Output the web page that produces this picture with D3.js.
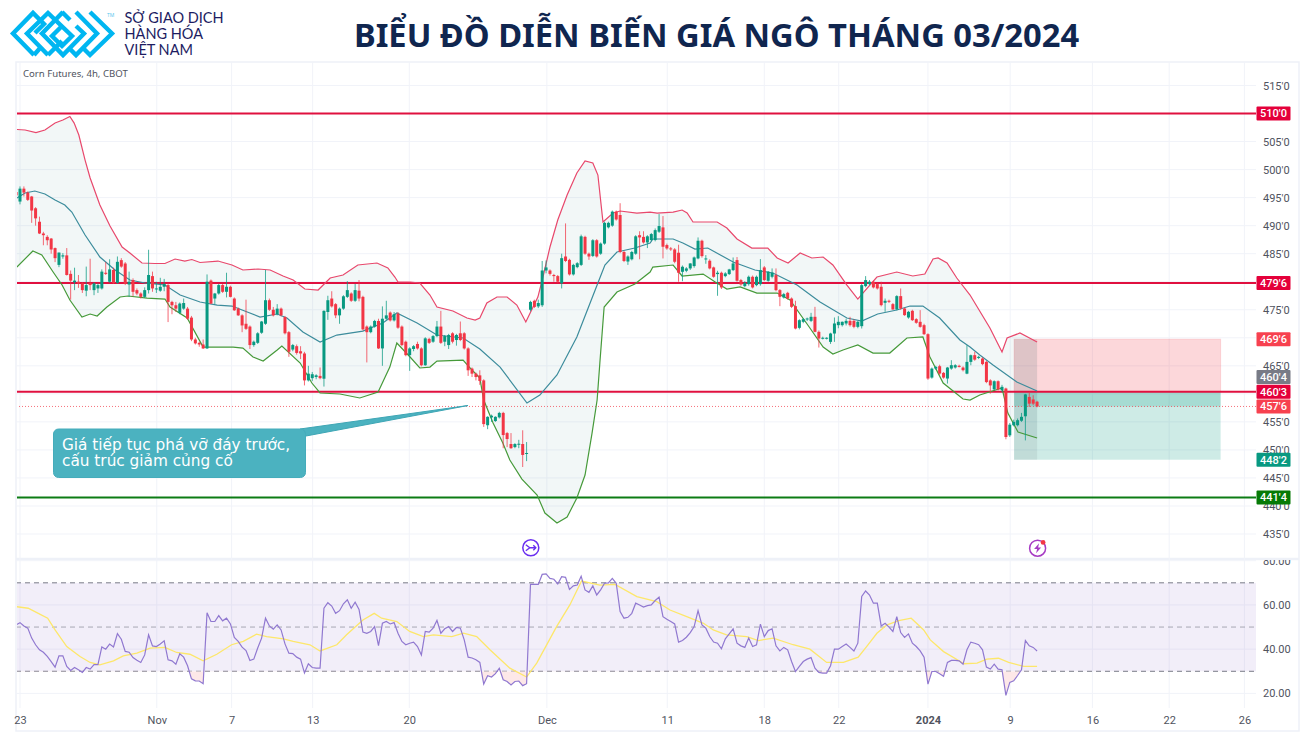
<!DOCTYPE html>
<html>
<head>
<meta charset="utf-8">
<title>Corn Futures</title>
<script src="https://cdn.jsdelivr.net/npm/d3@7"></script>
<style>
  html, body { margin: 0; padding: 0; background: #fff; overflow: hidden; }
  text { font-family: "Noto Sans", sans-serif; }
  .axis text { font-family: Roboto, sans-serif; font-size: 11px; fill: #50535e; }
</style>
</head>
<body>
<div id="chart-container"></div>
<script>
// open, high, low, close per 4h bar
var candles = [
  [496,503.5,493.7,495.4],
  [494.3,497,493.8,496.6],[496.6,497,495.2,495.9],[495.9,496.1,494.4,494.6],[495.2,495.3,490.5,492.7],[493.1,493.3,490,491.3],
  [490.7,491.6,488.5,488.6],[488.6,488.9,486.5,488.3],[488,488.3,486.5,487.4],[487.7,487.8,485,485.75],[486,486.1,483.5,484.2],
  [483,485.2,482.6,485.2],[484.5,485.1,484.1,484.7],[484.7,486,481.1,481.2],[481.4,482,476.8,480.2],[479.9,482.5,478.5,480.2],
  [480,481.2,478.9,479.7],[479.7,479.9,478,478.5],[478.4,482.7,477.4,479.4],[479.7,484.1,478.5,479.4],[478.5,479.9,477.6,479.7],
  [478.8,479.7,478,479.4],[478.8,482.2,478.6,481.8],[481.6,483.5,481.2,481.4],[480,484,479.8,482.2],[482.1,482.5,479.6,479.8],
  [479.8,484.5,479.6,483.55],[483.85,484.2,482.5,482.7],[483.25,483.5,479.4,479.6],[479.5,481.8,477.3,480],[480.3,480.6,477.4,478.2],
  [478.5,478.8,477.6,477.9],[477.9,478.1,477,477.3],[477.3,479,477.1,478.5],[478.5,485.7,477.9,481.2],[481,481.8,478.2,478.8],
  [478.7,480,478,478.8],[478.4,480.7,478.2,479.1],[479.1,480.5,478.3,479.6],[479.4,479.7,472.8,476.4],[476.4,476.6,474.2,475.8],
  [475.8,476.4,474.6,475.2],[474.45,476.3,474.2,476.1],[475.2,477,475,476.2],[475.2,475.5,473.2,473.4],[473.6,473.9,469.4,469.7],
  [469.7,470,468.8,469],[469.1,469.3,468.4,468.8],[468.8,469.7,468,468.1],[468.1,481.3,468,480],[480.2,480.4,476,476.1],
  [477,478,476,477.9],[477.9,479.6,477.7,479.4],[479.4,479.6,478,478.2],[478.2,481.6,477.2,479.1],[479.1,479.3,477.2,477.3],
  [477,477.2,474.8,474.9],[475.2,475.4,473.9,474],[474,474.2,471,472.2],[472.5,476.8,471.4,471.6],[472,472.2,468,468.7],
  [468.7,469.5,468.4,469.3],[469.1,471,468.9,470.8],[470.9,473,470.7,472.9],[472.5,482.1,472.3,476.7],[476.7,477,474.8,475],
  [475,475.5,473.8,474],[474.2,476,474,475.2],[475.2,475.4,473.8,474],[473.7,473.9,470.6,470.8],[471,471.2,466.6,467.5],
  [467.9,468.9,467.6,468.7],[468.5,468.8,467,467.3],[467.6,468.5,466.2,467.2],[467.2,467.5,461.5,462.4],[462.4,465,462.2,463.6],
  [462.8,463.9,462.3,463.5],[463,463.5,462.6,463.3],[463.2,464.7,462.6,462.8],[462.7,474.9,461.3,474.8],
  [474.6,477.5,473.2,476.7],[477,478.3,475.4,475.6],[476,476.2,473.5,474],[474,475.4,472.5,475.2],[475.2,477.6,475,477.4],
  [477.3,480.1,477.1,478.5],[477.9,478.1,476.4,476.6],[476.6,479.6,476.4,478.5],[478.4,480.3,476.5,477],[477.3,477.5,471.3,471.5],
  [472,472.2,465.6,471],[471,472.2,470.8,472],[472,473.2,471.8,473],[473,473.4,468,468.1],[468.1,475.6,465,473.4],
  [473.4,476.6,473.2,474],[474.5,474.7,472.9,473.1],[473.1,474.6,472.9,474.2],[474.3,474.6,471.6,471.8],[472,472.2,468.5,468.7],
  [469.3,469.5,466.7,466.9],[466.9,468.3,464.1,468.1],[468,468.7,467.6,468.5],[468.9,469.3,467.9,468.1],[468.1,468.3,464.9,465.1],
  [465.1,470.1,465,469.9],[469.8,470,468.9,469.1],[469.3,470.5,469.1,470.3],[470.3,473,470.1,472],[472,474.8,468.9,469.1],
  [469.3,470.5,468.5,470.3],[468.7,470.7,468,470.5],[470.8,471,469,469.3],[469.6,470.7,468.6,470.5],[470.8,472.9,469.4,469.6],
  [470.8,471,467.9,468.1],[468.1,468.3,463.2,464.2],[464.5,464.7,463,463.6],[463.6,463.8,462.4,463],[463.3,464.2,461.6,462.3],
  [462.4,462.6,454.1,454.6],[454.4,456,453.7,455.9],[455.8,456.3,455,456.1],[455.15,456,455,455.9],[455.8,456.8,455.6,456.6],
  [456.6,456.8,450.3,452.65],[453,453.2,450.5,451.94],[451.05,453,450.2,450.3],[450.5,451.2,450.3,451.05],[451,451.8,450.3,451.1],
  [451.05,453.5,446.95,449.1],[449.3,451.4,448,449.45],
  [475,476.6,474.7,476.4],[476.6,476.8,475.3,475.5],[475.6,476.8,475.3,476.2],[475.8,483.7,475.5,482],[482,483.8,481.5,482.55],
  [482,482.2,481.1,481.4],[481.2,481.4,480,481],[481,481.2,479.8,480],[479.7,485,478.8,484.2],[484.5,490.4,483.5,483.7],
  [483.9,484.1,481.1,481.3],[481.3,483.2,481.1,483],[482.6,483.5,482.4,483.3],[483,488.4,482.8,488.1],[488,488.2,484.8,485],
  [485,485.2,483.9,484.5],[484.6,487.6,484.4,487.4],[487.4,487.6,484.3,484.5],[485,487,484.8,486.8],[486.8,490.7,486.6,490.5],
  [489.7,490.7,489.5,490.5],[490,492.7,489.8,492.5],[492.5,492.7,490.9,491.1],[491.9,494,485.1,485.3],[485.3,485.5,483.5,483.7],
  [483.6,484.7,483,484.5],[484,485.5,483.8,485.3],[485,488.3,484.8,488.1],[488.3,489,484,487.9],[488,489,486.8,487],[487,488.3,486,488.1],
  [487.43,488.7,487.2,488.5],[487.43,489.5,487.2,489.2],[488.92,492.07,488.7,489.93],[489.69,491.71,484.15,486.24],[486.54,486.8,485.7,485.94],
  [485.94,486.2,485.5,485.76],[485.76,486,483.3,483.56],[485.17,486.6,480,481.6],[481.77,482.9,480.1,482.67],[481.95,482.6,481.7,482.37],
  [482.37,483.3,482.1,483.26],[482.79,484.5,482.5,484.33],[484.15,487.9,484,487.31],[487.31,487.5,484.3,484.57],[483.98,484.75,483.2,484.15],
  [483.74,484,482.2,482.37],[482.55,482.7,480.7,480.88],[481.36,481.95,477.49,481.6],[481.6,481.8,478.7,478.98],[481,481.7,480.8,481.48],
  [481.36,482.3,481.2,482.19],[482.07,484.33,481.9,483.26],[483.86,484.4,480,480.17],[480.29,480.5,479.3,479.51],[479.21,480.1,479,479.81],
  [479.57,481.1,479.3,480.88],[480.88,481.1,478.8,478.98],[479.39,481.1,479.2,480.88],[479.57,484.04,479.3,482.07],[482.55,482.8,480.1,480.29],
  [480.17,481.9,480,481.77],[480.88,482.37,480.6,481.6],[481.18,482.37,478.3,478.5],[478.5,478.7,475.64,477.31],[477.19,478,477,477.79],
  [478.02,478.2,476.8,477],[477,477.2,475.3,475.52],[475.64,476.6,471.5,471.65],[471.77,473.3,471.5,473.14],[472.85,473.5,472.6,473.32],
  [473.26,473.6,473,473.44],[473.02,474.45,472.8,473.74],[473.74,475.52,471,471.06],[471.06,471.3,468.26,469.87],[469.9,470.2,469.7,470],
  [469.9,470.1,469.7,470],[469.27,470.9,468.9,470.76],[470.76,473.62,469.27,472.55],[472.25,473.86,471.7,472.85],[472.25,472.9,472,472.85],
  [472.55,473.4,472.2,473.02],[473.02,473.74,472,472.25],[473.02,473.3,471.7,471.95],[471.95,473,471.7,472.85],[472.07,479.6,471.65,479.39],
  [479.21,481,479,480.29],[479.57,480.3,479.4,480],[480,480.2,478.8,478.98],[479.57,479.8,478.6,478.8],[479.1,480,475.6,475.82],
  [476.24,477,474.63,476.6],[476.6,476.8,476.2,476.42],[476,476.2,475,475.05],[475.05,477.6,474.9,477.43],[477.43,478.8,475,475.23],
  [475.23,475.4,473.9,474.04],[473.62,474.8,473.4,474.63],[474.81,475,473,473.14],[473.32,473.5,472.5,472.67],[472.85,474.93,471.8,471.95],
  [472.25,472.5,470.5,470.64],[470.64,470.8,462.5,462.73],[462.9,464.7,462.7,464.51],[464.51,465,464.3,464.81],[464.93,465.2,463.4,463.62],
  [463.74,463.9,462.7,462.9],[462.73,464.8,461.83,464.69],[464.51,466,464.3,465.11],[464.7,465.3,464.5,465.11],[465,465.2,464.7,464.8],
  [464.69,464.9,464,464.22],[463.6,468.68,463.5,465.7],
  [465.7,467,465.1,466.89],[466.9,467.5,465.9,466.1],[466.4,466.8,466.2,466.6],[466.3,466.5,465.1,465.3],[465.7,465.9,461.9,462.1],
  [462.4,462.6,460.05,461.5],[460.8,462.4,460.6,462.25],[462.25,462.4,460.6,460.8],[460.65,461.6,460.3,461.25],[460.95,461.1,451.9,452.3],
  [452.6,454.8,452.3,454.5],[454.4,455.4,454.2,455],[454.4,455.6,454.2,455.3],[455.2,456.6,455,455.9],[456,460,451.7,459.9],
  [459.45,460.35,457.65,458.25],[459,459.75,458,458.25],[458.6,458.75,457.6,457.75]
];

// bollinger bands as [bar, price]
var upperBand = [[0.2,507.15],[2.3,507.06],[5.1,506.6],[7.4,507.06],[10,508.3],[12,508.84],[13.8,509.47],[14.9,508.3],[16.1,506.17],[17.7,501.7],[19,498.5],[21.5,493.68],[24.1,489.94],[27.2,486.19],[29.2,485.12],[32.3,483.34],[35.6,483.25],[38.2,483.25],[40.8,484.05],[43.3,483.69],[45.1,483.96],[47.2,483.43],[51.8,483.69],[55.4,482.98],[58.2,482.09],[62.1,482.27],[65.2,482.09],[68.5,481.02],[71.1,480.3],[74.1,478.7],[77.5,478.52],[80.6,480.66],[83.9,481.2],[87.7,482.98],[92.6,483.34],[95.4,482.45],[97.2,480.84],[98,479.95],[101.1,479.95],[103.6,479.77],[106.2,477.63],[108,475.49],[112.1,474.77],[115.7,473.52],[117.8,473.17],[119,473.52],[120.8,476.2],[123.4,477.27],[126,477.27],[128.5,475.84],[130.8,472.81],[133.9,477.27],[135.2,480.84],[137,486.19],[139,491],[141.4,495.47],[143.9,499.39],[146,501.53],[148,501.17],[149.3,499.03],[150.6,490.65],[153.2,492.25],[155,492.61],[159.3,492.25],[162.7,492.43],[164.5,492.25],[168.6,492.43],[170.9,492.79],[172.2,492.25],[173.7,490.65],[179.9,490.65],[182.4,489.58],[185,487.62],[188.8,486.01],[192.9,486.01],[195.3,484.23],[198.1,483.34],[201.2,485.12],[204.2,484.23],[207.1,484.41],[209.6,482.98],[213.2,479.41],[216,476.91],[217.3,477.98],[220.9,480.84],[226,481.73],[230.1,481.02],[233.2,481.37],[235.3,484.05],[236.6,484.23],[238.9,483.34],[241.4,480.66],[244.8,477.63],[249.9,471.74],[253,467.46],[254.3,469.96],[257.6,470.85],[262,469.24]];
var basisBand = [[0.2,494.93],[2.3,495.82],[4.8,496.18],[7.4,495.64],[10,494.57],[12.5,493.68],[14.3,492.43],[17.7,488.33],[21.5,484.41],[25.4,482.09],[29.2,480.3],[33.1,479.77],[38.2,479.41],[42.1,477.63],[47.2,476.38],[51.6,475.84],[55.4,475.66],[58,474.95],[62.6,473.7],[67,474.24],[69.5,473.52],[73.6,471.03],[78,469.25],[82.3,470.49],[89,471.2],[94.1,472.63],[97.7,474.42],[102.9,472.63],[108,470.49],[114.7,469.96],[119,468],[124.2,464.78],[131.1,458.36],[134.4,459.79],[138.8,463.36],[143.9,470.14],[149.1,479.41],[151.1,482.98],[154.2,485.3],[158.8,486.01],[162.7,486.9],[163.4,487.62],[168.6,487.62],[171.1,486.9],[174.2,485.83],[177.5,486.01],[184,483.51],[189.6,482.09],[194.2,481.55],[200.4,479.41],[206.3,476.38],[213.2,473.52],[217,472.99],[221.1,474.24],[226,474.95],[229.4,475.66],[232.7,475.66],[237,473.52],[242.2,469.6],[244.8,468.35],[247.3,466.92],[250.7,465.14],[256.8,462.11],[262,460.5]];
var lowerBand = [[0.2,482.62],[4.3,485.48],[6.6,484.76],[9.5,481.73],[11.8,479.41],[13.8,476.74],[16.9,473.7],[19,474.24],[20.8,473.88],[23.3,475.49],[26.7,477.27],[28.7,477.45],[33.6,477.09],[38.2,476.91],[39.5,475.49],[43.9,473.52],[48,468.35],[55.7,468.35],[58.2,468.17],[60.8,466.57],[63.4,465.85],[67,467.82],[68.2,468.53],[72.9,465.5],[75.9,461.93],[78,460.15],[83.1,459.97],[88.2,459.26],[92.9,460.32],[95.9,464.78],[97.7,469.07],[101.1,466.57],[103.6,464.61],[106.2,464.78],[108,465.85],[114.7,466.03],[116.5,464.61],[119,462.82],[120,458.9],[122.4,454.8],[124.9,451.23],[126.7,448.2],[129.8,444.8],[133.7,441.95],[135.7,438.74],[138.8,436.96],[141.4,438.03],[143.9,441.42],[146,445.52],[147.8,453.01],[149.1,458.9],[149.8,465.5],[150.9,475.49],[154.2,478.16],[158.8,479.59],[162.7,481.73],[163.4,482.62],[168.6,482.98],[170.9,481.02],[176.3,481.37],[179.4,479.95],[182.4,478.7],[185.8,479.06],[190.1,477.98],[195.3,477.98],[198.6,476.74],[203.7,471.74],[207.1,468.35],[209.6,467.1],[212.2,467.82],[216,468.71],[219.9,467.28],[224.2,467.28],[228.6,469.96],[232.7,470.14],[234.5,466.57],[237.9,461.93],[243,459.08],[244.8,458.9],[247.3,459.79],[253,461.04],[254.5,456.58],[257.1,453.19],[262,452.12]];

// RSI per bar
var rsiValues = [51,
  52,50.5,49.5,45,42,39.7,38.6,36.7,34.4,31.9,37,37,32.2,30.4,31.7,30.7,29.5,31.7,31,33,
  33,41,40,42.3,41,47,44.5,39,38.6,36.2,35,34,37.4,46.5,41.5,41.2,42.3,43.8,35.2,34.7,
  33.2,37.9,36.4,32.5,26.6,25.7,25.6,24.4,56.5,52.5,52.5,55.2,52.8,54,51.4,45.3,43.5,40.9,39.4,34.9,
  35.5,40.5,45,54,50.5,49,51,48.7,42.4,38.2,38,36.4,35.5,29.2,33.4,31.7,31.4,31.4,58.5,61,
  59.5,56.2,57.4,60.5,62.3,58.5,61.2,58,47.7,47.2,48,50.2,41.6,51.7,52.5,51.4,52,47.2,43.5,42,
  42.7,43.2,41.2,37.4,48,47.7,49.5,53,47.2,49.2,50.2,48,49.8,49.5,44.2,36.4,36,35.2,34,24.2,
  28,27.4,28.9,31.4,26.2,25.4,23.8,25.4,25.6,23.5,24.4,69.3,69.3,69.3,73.8,74,72,71.6,69.5,72.8,
  72.5,67,68.6,69,73,66.8,65.7,68.6,64.5,66.8,69.8,70,72,69.8,57,54,54.4,56.2,60.8,60,
  59,59.7,60,62,63.5,54.7,53.5,52.5,51.4,43.2,43.9,45.4,47.5,50.2,57.4,51,49.5,45.7,43.2,42.7,
  40.2,44.7,46.9,49.2,42.7,41.5,40.8,45,41.2,42,51.3,45.7,48.4,49.2,41.5,39.2,40.8,39.7,34.4,29.9,
  32.2,34.4,35.5,36.2,31.4,29.5,29.2,29.2,32.5,40,40,41.2,42.3,40.8,39.2,42.7,63.8,66.3,64.5,60.8,
  60.8,50.5,51.7,50,48,54.7,47.5,45.3,46.9,42.7,41.2,39.2,36.4,24.2,29.9,29.9,28.9,27.7,34,34.9,
  34.9,34.7,33.2,39.7,43.2,42.7,42,39.7,31.9,31,33.2,31,30.7,19.1,25,25.7,28.1,30.7,43.9,41.5,
  40.8,39.2
];
// RSI moving average as [bar, value]
var rsiAverage = [[0.1,59.2],[3.1,58.5],[5.7,56.2],[8.1,54],[10,48.7],[13,41.2],[16.4,36.7],[19,34],[21.5,32.9],[25,34.7],[27.5,37],[31,38.2],[34.4,40.5],[38.2,40.8],[41.2,38.5],[44.6,37.7],[48,34.7],[51.5,37.7],[55.3,42],[58.3,43.5],[61.7,46.8],[64.3,45.7],[68.6,44.7],[71.1,43.5],[75.4,42],[78,39.2],[82.3,42],[84.8,46.5],[89,53.2],[91.9,56.2],[93.8,54],[97.7,52.5],[101,48],[104.5,45.7],[107.1,46.5],[111.8,45.7],[114.8,47.2],[118.2,45.7],[121.6,39.7],[126.7,31.4],[131,27.4],[133.6,33.7],[138.7,50.2],[142.1,60],[145.1,70.8],[149.8,69],[153.7,69.3],[159.3,63.8],[164.4,61.5],[167.8,57.7],[172.1,54.7],[176.4,51.7],[178.9,48.7],[182.3,46.5],[187.5,45.7],[190.5,43.9],[194.3,45],[199.4,42],[203.7,40],[208,34],[212.3,34],[216.1,36.4],[218.4,41.5],[220.9,47.2],[223.5,51],[226.5,52.9],[229.7,54],[232.9,48.7],[234.6,44.2],[238,38.9],[242.3,34.4],[243.2,33.4],[246.6,33.7],[249.1,35.5],[252.1,35.9],[254.7,34],[258.6,32.2],[262,32.2]];

var priceTicks = [515,510,505,500,495,490,485,480,475,470,465,460,455,450,445,440,435];
// these sit under a price tag in the picture
var hiddenPriceLabels = [510,480,470,460];
var rsiTicks = [20,40,60,80];
var rsiLevels = [70,50,30];
var timeTickBars = [1,36.1,55.3,76.1,100.9,136.2,167.1,192,211.1,234,255.1,276.2,295.9,315.2];
var timeTickLabels = ["23","Nov","7","13","20","Dec","11","18","22","2024","9","16","22","26"];

// horizontal levels
var redLevels = [510,479.75,460.375];
var greenLevel = 441.5;
var lastPrice = 457.75;
var positionBars = [256.1,309.1];
var positionEntry = 460.375, positionStop = 469.75, positionTarget = 448.25;

var tagLabels = ["510'0","479'6","469'6","460'4","460'3","457'6","448'2","441'4"];
var tagPrices = [510,479.75,469.75,460.5,460.375,457.75,448.25,441.5];
var tagColors = ["#e4003a","#e4003a","#f7414f","#787b86","#e4003a","#f7414f","#089981","#067a06"];

var width = 1307, height = 735;
var plot = { left: 16, right: 1256, top: 62, bottom: 559, rsiBottom: 708, end: 731, outer: 1299 };

var svg = d3.select("#chart-container").append("svg")
  .attr("width", width).attr("height", height).style("display", "block");

var defs = svg.append("defs");
defs.append("clipPath").attr("id", "main-clip").append("rect")
  .attr("x", plot.left + 1).attr("y", plot.top).attr("width", plot.right - plot.left - 1).attr("height", plot.bottom - plot.top);
defs.append("clipPath").attr("id", "rsi-clip").append("rect")
  .attr("x", plot.left + 1).attr("y", plot.bottom + 1).attr("width", plot.right - plot.left - 1).attr("height", plot.rsiBottom - plot.bottom);
defs.append("clipPath").attr("id", "rsi-axis-clip").append("rect")
  .attr("x", plot.right).attr("y", plot.bottom + 1).attr("width", 43).attr("height", plot.end - plot.bottom);

// Scales
var xScale = d3.scaleLinear().domain([0, 318]).range([16.1, 1255.3]);
var priceY = d3.scaleLinear().domain([515, 435]).range([85.5, 534]);
var rsiY = d3.scaleLinear().domain([80, 20]).range([560.7, 693.4]);

// Title and logo
svg.append("text").attr("x", 716.5).attr("y", 46.5).attr("text-anchor", "middle")
  .style("font-family", "'Noto Sans'").style("font-weight", 700).style("font-size", "32.7px").style("fill", "#10264f")
  .text("BIỂU ĐỒ DIỄN BIẾN GIÁ NGÔ THÁNG 03/2024");

var logoPaths = [
  "M34,55 L13,33.5 L33,13 L44,24 L35,33",
  "M48,55 L27,33.5 L48,13 L72,36 L62,46 L52,36 L62,26",
  "M34,55 L41,47 M48,55 L62,41",
  "M63,12 L42,33.5 L63,55 L84,33.5 L76,26",
  "M76,12 L97,33.5 L76,55 L70,49",
  "M90,12 L112,33.5 L90,55 L84,49",
  "M62,12 L70,20"
];
svg.append("g").selectAll("path").data(logoPaths).enter().append("path")
  .attr("d", function(d) { return d; })
  .attr("fill", "none").attr("stroke", "#00b6f1").attr("stroke-width", 4.4);
svg.append("text").attr("x", 107).attr("y", 17).style("font-size", "5px").style("fill", "#5bc8ee").text("TM");

var logoLines = ["SỞ GIAO DỊCH", "HÀNG HÓA", "VIỆT NAM"];
svg.append("g").selectAll("text").data(logoLines).enter().append("text")
  .attr("x", 124.5).attr("y", function(d, i) { return 23 + i * 16.2; })
  .style("font-family", "Lato").style("font-size", "14.5px").style("fill", "#1d1c62")
  .text(function(d) { return d; });

// Panel frame
var frame = svg.append("g").attr("fill", "none").attr("stroke", "#eef1f8").attr("stroke-width", 1.5);
frame.append("rect").attr("x", plot.left).attr("y", plot.top).attr("width", plot.outer - plot.left).attr("height", plot.end - plot.top);
frame.append("line").attr("x1", plot.left).attr("x2", plot.outer).attr("y1", plot.bottom).attr("y2", plot.bottom).attr("stroke-width", 2.5);

// Grid
var grid = svg.append("g").attr("stroke", "#f1f3f9").attr("stroke-width", 1);
grid.selectAll(".v").data(timeTickBars).enter().append("line")
  .attr("x1", function(d) { return xScale(d); }).attr("x2", function(d) { return xScale(d); })
  .attr("y1", plot.top).attr("y2", plot.rsiBottom);
grid.selectAll(".h").data(priceTicks).enter().append("line")
  .attr("x1", plot.left).attr("x2", plot.right)
  .attr("y1", function(d) { return priceY(d); }).attr("y2", function(d) { return priceY(d); });
grid.selectAll(".r").data(rsiTicks).enter().append("line")
  .attr("x1", plot.left).attr("x2", plot.right)
  .attr("y1", function(d) { return rsiY(d); }).attr("y2", function(d) { return rsiY(d); });

// Axes
var visiblePriceTicks = priceTicks.filter(function(d) { return hiddenPriceLabels.indexOf(d) < 0; });
var priceAxis = svg.append("g").attr("class", "axis")
  .attr("transform", "translate(1257,0)")
  .call(d3.axisRight(priceY).tickValues(visiblePriceTicks).tickSize(0).tickPadding(6).tickFormat(function(d) { return d + "'0"; }));
priceAxis.select(".domain").remove();

var rsiAxis = svg.append("g").attr("clip-path", "url(#rsi-axis-clip)").append("g").attr("class", "axis")
  .attr("transform", "translate(1257,0)")
  .call(d3.axisRight(rsiY).tickValues(rsiTicks).tickSize(0).tickPadding(6).tickFormat(d3.format(".2f")));
rsiAxis.select(".domain").remove();

var timeAxis = svg.append("g").attr("class", "axis")
  .attr("transform", "translate(0,710)")
  .call(d3.axisBottom(xScale).tickValues(timeTickBars).tickSize(0).tickPadding(6).tickFormat(function(d, i) { return timeTickLabels[i]; }));
timeAxis.select(".domain").remove();
timeAxis.selectAll("text").style("font-weight", function(d, i) { return timeTickLabels[i] === "2024" ? 700 : 400; });

// Main pane
var main = svg.append("g").attr("clip-path", "url(#main-clip)");

// Long/short position box
var boxLeft = xScale(positionBars[0]), boxWidth = xScale(positionBars[1]) - boxLeft;
main.append("rect").attr("x", boxLeft).attr("width", boxWidth)
  .attr("y", priceY(positionStop)).attr("height", priceY(positionEntry) - priceY(positionStop))
  .attr("fill", "#f23645").attr("fill-opacity", 0.2).attr("stroke", "#f23645").attr("stroke-opacity", 0.15);
main.append("rect").attr("x", boxLeft).attr("width", boxWidth)
  .attr("y", priceY(positionEntry)).attr("height", priceY(positionTarget) - priceY(positionEntry))
  .attr("fill", "#089981").attr("fill-opacity", 0.2);
main.append("rect").attr("x", boxLeft).attr("width", boxWidth)
  .attr("y", priceY(positionEntry)).attr("height", priceY(lastPrice) - priceY(positionEntry))
  .attr("fill", "#089981").attr("fill-opacity", 0.2);
// the part of the box that lies over the price bars is a bit darker
main.append("rect").attr("x", boxLeft).attr("width", xScale(262) - boxLeft)
  .attr("y", priceY(positionStop)).attr("height", priceY(positionTarget) - priceY(positionStop))
  .attr("fill", "#4a5a60").attr("fill-opacity", 0.1);

// Bollinger fill and lines
var bandLine = d3.line()
  .x(function(d) { return xScale(d[0]); })
  .y(function(d) { return priceY(d[1]); });

main.append("path").attr("d", bandLine(upperBand.concat(lowerBand.slice().reverse())) + "Z")
  .attr("fill", "#0b6a70").attr("fill-opacity", 0.055);

// Levels
main.selectAll(".level").data(redLevels).enter().append("line")
  .attr("x1", plot.left).attr("x2", plot.right)
  .attr("y1", function(d) { return priceY(d); }).attr("y2", function(d) { return priceY(d); })
  .attr("stroke", "#e0103f").attr("stroke-width", 2);
main.append("line").attr("x1", plot.left).attr("x2", plot.right)
  .attr("y1", priceY(greenLevel)).attr("y2", priceY(greenLevel))
  .attr("stroke", "#0c7c14").attr("stroke-width", 2);
main.append("line").attr("x1", plot.left).attr("x2", plot.right)
  .attr("y1", priceY(lastPrice)).attr("y2", priceY(lastPrice))
  .attr("stroke", "#f23645").attr("stroke-opacity", 0.7).attr("stroke-dasharray", "1,2");

main.append("path").attr("d", bandLine(upperBand)).attr("fill", "none").attr("stroke", "#e8486c").attr("stroke-width", 1.2);
main.append("path").attr("d", bandLine(basisBand)).attr("fill", "none").attr("stroke", "#3c8c9c").attr("stroke-width", 1.2);
main.append("path").attr("d", bandLine(lowerBand)).attr("fill", "none").attr("stroke", "#469a3a").attr("stroke-width", 1.2);

// Candles
var candleColor = function(d) { return d[3] >= d[0] ? "#089981" : "#f23645"; };
var bar = main.selectAll(".candle").data(candles).enter().append("g").attr("class", "candle");
bar.append("line")
  .attr("x1", function(d, i) { return xScale(i); }).attr("x2", function(d, i) { return xScale(i); })
  .attr("y1", function(d) { return priceY(d[1]); }).attr("y2", function(d) { return priceY(d[2]); })
  .attr("stroke", candleColor).attr("stroke-opacity", 0.75);
bar.append("rect")
  .attr("x", function(d, i) { return xScale(i) - 1.5; }).attr("width", 3)
  .attr("y", function(d) { return priceY(Math.max(d[0], d[3])); })
  .attr("height", function(d) { return Math.max(1, Math.abs(priceY(d[0]) - priceY(d[3]))); })
  .attr("fill", candleColor);

// Callout
var callout = svg.append("g");
callout.append("path").attr("d", "M300,429 L468,405.5 L306,436 Z").attr("fill", "#4bb2c0").attr("stroke", "#3ea6b5");
callout.append("rect").attr("x", 53.5).attr("y", 429).attr("width", 252).attr("height", 48.5).attr("rx", 5)
  .attr("fill", "#4bb2c0").attr("stroke", "#45acbb");
var calloutLines = ["Giá tiếp tục phá vỡ đáy trước,", "cấu trúc giảm củng cố"];
callout.selectAll("text").data(calloutLines).enter().append("text")
  .attr("x", 62).attr("y", function(d, i) { return 449.5 + i * 16; })
  .style("font-family", "'DejaVu Sans'").style("font-size", "15.3px").style("font-weight", 500).style("fill", "#fff")
  .text(function(d) { return d; });

// Legend
svg.append("text").attr("x", 23).attr("y", 76.5)
  .style("font-family", "'Noto Sans'").style("font-size", "9.6px").style("fill", "#50535e")
  .text("Corn Futures, 4h, CBOT");

// Event icons
var splitIcon = svg.append("g").attr("transform", "translate(530.8,547.8)").attr("fill", "none").attr("stroke", "#6a2ff0");
splitIcon.append("circle").attr("r", 8).attr("fill", "#fff").attr("stroke-width", 1.5);
splitIcon.append("path").attr("d", "M-5,-3 L-1,0 L-5,3 M-1,0 L5,0 M2.5,-2.5 L5,0 L2.5,2.5").attr("stroke-width", 1.4);
var earnIcon = svg.append("g").attr("transform", "translate(1037.6,548.2)").attr("fill", "none");
earnIcon.append("circle").attr("r", 8).attr("fill", "#fff").attr("stroke", "#a63bc4").attr("stroke-width", 1.5);
earnIcon.append("path").attr("d", "M1.5,-5 L-3.5,0.8 L-0.5,0.8 L-1.5,5 L3.5,-0.8 L0.5,-0.8 Z").attr("fill", "#a63bc4");
earnIcon.append("circle").attr("cx", 5.5).attr("cy", -5.8).attr("r", 2.4).attr("fill", "#f23645");

// Price tags
var tagData = tagLabels.map(function(label, i) { return { label: label, price: tagPrices[i], color: tagColors[i] }; });
var tags = svg.selectAll(".tag").data(tagData).enter().append("g").attr("class", "tag")
  .attr("transform", function(d) {
    var nudge = d.label === "460'4" ? -14 : 0;
    return "translate(1256.5," + (priceY(d.price) + nudge) + ")";
  });
tags.append("rect").attr("x", 0).attr("y", -7).attr("width", 34).attr("height", 14).attr("rx", 1).attr("fill", function(d) { return d.color; });
tags.append("text").attr("x", 17).attr("y", 3.9).attr("text-anchor", "middle")
  .style("font-family", "Roboto").style("font-size", "11px").style("font-weight", 500).style("fill", "#fff")
  .text(function(d) { return d.label; });

// RSI pane
var rsiPane = svg.append("g").attr("clip-path", "url(#rsi-clip)");
rsiPane.append("rect").attr("x", plot.left).attr("width", plot.right - plot.left)
  .attr("y", rsiY(rsiLevels[0])).attr("height", rsiY(rsiLevels[2]) - rsiY(rsiLevels[0]))
  .attr("fill", "#7e57c2").attr("fill-opacity", 0.1);
rsiPane.selectAll(".rsi-level").data(rsiLevels).enter().append("line")
  .attr("x1", plot.left).attr("x2", plot.right)
  .attr("y1", function(d) { return rsiY(d); }).attr("y2", function(d) { return rsiY(d); })
  .attr("stroke", "#787b86").attr("stroke-opacity", function(d) { return d === 50 ? 0.6 : 1; }).attr("stroke-dasharray", "5,4");

defs.append("clipPath").attr("id", "oversold-clip").append("rect")
  .attr("x", plot.left).attr("y", rsiY(30)).attr("width", plot.right - plot.left).attr("height", plot.rsiBottom - rsiY(30));
rsiPane.append("g").attr("clip-path", "url(#oversold-clip)").append("path")
  .attr("d", d3.area()
    .x(function(d, i) { return xScale(i); })
    .y0(rsiY(30))
    .y1(function(d) { return rsiY(d); })(rsiValues))
  .attr("fill", "#fde8e8");

rsiPane.append("path").attr("d", d3.line()
    .x(function(d) { return xScale(d[0]); })
    .y(function(d) { return rsiY(d[1]); })(rsiAverage))
  .attr("fill", "none").attr("stroke", "#fde76a").attr("stroke-width", 1.3);
rsiPane.append("path").attr("d", d3.line()
    .x(function(d, i) { return xScale(i); })
    .y(function(d) { return rsiY(d); })(rsiValues))
  .attr("fill", "none").attr("stroke", "#9078d0").attr("stroke-width", 1.2);
</script>
</body>
</html>
